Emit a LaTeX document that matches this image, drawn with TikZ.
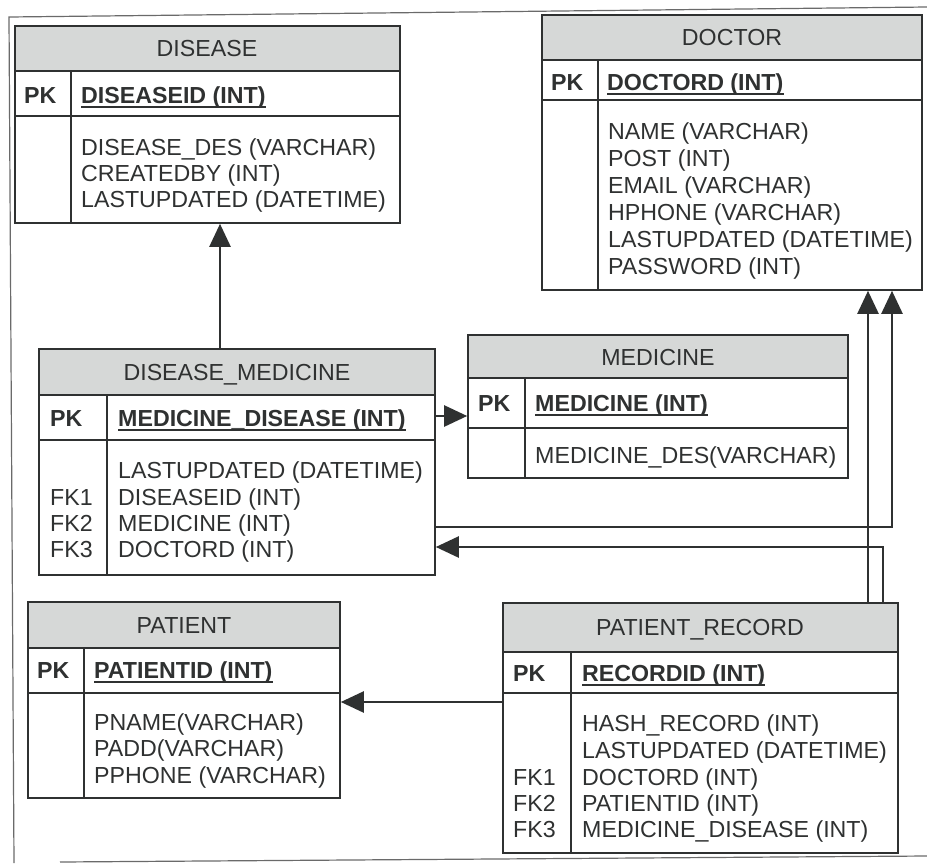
\documentclass[tikz,border=0pt]{standalone}
\usepackage{fontspec}
\setmainfont{Liberation Sans}
\usetikzlibrary{arrows.meta,fit}
\definecolor{ink}{HTML}{2F3131}
\definecolor{titlefill}{HTML}{D6D8D7}
\definecolor{framec}{HTML}{6A6A6A}
\tikzset{
  tline/.style={draw=ink, line width=1.6pt},
  txt/.style={font=\fontsize{23.2}{27}\selectfont, text=ink, inner sep=0pt, text height=16.5pt, text depth=0pt, anchor=west},
  ttl/.style={txt, anchor=center},
  bld/.style={txt, font=\fontsize{23.2}{27}\selectfont\bfseries},
  conn/.style={draw=ink, line width=2.4pt, -{Triangle[length=23pt,width=21pt]}},
}
\newcommand{\mktable}[8]{%
  \fill[titlefill] (#2,#3) rectangle (#4,#5);
  \draw[tline] (#2,#5) -- (#4,#5) (#2,#6) -- (#4,#6) (#8,#5) -- (#8,#7);
  \node[tline, inner sep=0pt, fit={(#2,#3) (#4,#7)}] (#1) {};
}
\newcommand{\pkline}[1]{\draw[ink, line width=1.5pt] ([yshift=-3.5pt]#1.south west) -- ([yshift=-3.5pt]#1.south east);}
\begin{document}
\begin{tikzpicture}[x=1pt,y=-1pt]
\useasboundingbox (0,0) rectangle (927,863);
\fill[white] (0,0) rectangle (927,863);
% scanned frame
\draw[framec, line width=1.2pt] (927,7) -- (9,17) -- (14,863);
\draw[framec, line width=1.2pt] (60,862) -- (927,856);

% tables
\mktable{disease}{15}{26}{400}{71}{116}{223}{71}
\mktable{doctor}{542}{15}{922}{60}{100}{290}{598}
\mktable{dm}{39}{349}{435}{395}{440}{575}{107}
\mktable{medicine}{468}{335}{848}{378}{428}{478}{525}
\mktable{patient}{28}{602}{340}{648}{693}{798}{84}
\mktable{pr}{503}{603}{898}{652}{693}{853}{571}

% DISEASE
\node[ttl] (dis-t) at (207,48) {DISEASE};
\node[bld] (dis-pkl) at (24,95) {PK};
\node[bld] (dis-pk) at (81,95) {DISEASEID (INT)};
\pkline{dis-pk}
\node[txt] (dis-1) at (81,147) {DISEASE\_DES (VARCHAR)};
\node[txt] (dis-2) at (81,173) {CREATEDBY (INT)};
\node[txt] (dis-3) at (81,199) {LASTUPDATED (DATETIME)};

% DOCTOR
\node[ttl] (doc-t) at (732,37) {DOCTOR};
\node[bld] (doc-pkl) at (551,82) {PK};
\node[bld] (doc-pk) at (607,82) {DOCTORD (INT)};
\pkline{doc-pk}
\node[txt] (doc-1) at (608,131) {NAME (VARCHAR)};
\node[txt] (doc-2) at (608,158) {POST (INT)};
\node[txt] (doc-3) at (608,185) {EMAIL (VARCHAR)};
\node[txt] (doc-4) at (608,212) {HPHONE (VARCHAR)};
\node[txt] (doc-5) at (608,239) {LASTUPDATED (DATETIME)};
\node[txt] (doc-6) at (608,266) {PASSWORD (INT)};

% DISEASE_MEDICINE
\node[ttl] (dm-t) at (237,372) {DISEASE\_MEDICINE};
\node[bld] (dm-pkl) at (50,418) {PK};
\node[bld] (dm-pk) at (118,418) {MEDICINE\_DISEASE (INT)};
\pkline{dm-pk}
\node[txt] (dm-1) at (118,470) {LASTUPDATED (DATETIME)};
\node[txt] (dm-2) at (118,497) {DISEASEID (INT)};
\node[txt] (dm-3) at (118,523) {MEDICINE (INT)};
\node[txt] (dm-4) at (118,549) {DOCTORD (INT)};
\node[txt] (dm-f1) at (50,497) {FK1};
\node[txt] (dm-f2) at (50,523) {FK2};
\node[txt] (dm-f3) at (50,549) {FK3};

% MEDICINE
\node[ttl] (med-t) at (658,357) {MEDICINE};
\node[bld] (med-pkl) at (478,403) {PK};
\node[bld] (med-pk) at (535,403) {MEDICINE (INT)};
\pkline{med-pk}
\node[txt] (med-1) at (535,455) {MEDICINE\_DES(VARCHAR)};

% PATIENT
\node[ttl] (pat-t) at (184,625) {PATIENT};
\node[bld] (pat-pkl) at (37,670) {PK};
\node[bld] (pat-pk) at (94,670) {PATIENTID (INT)};
\pkline{pat-pk}
\node[txt] (pat-1) at (94,722) {PNAME(VARCHAR)};
\node[txt] (pat-2) at (94,748) {PADD(VARCHAR)};
\node[txt] (pat-3) at (94,775) {PPHONE (VARCHAR)};

% PATIENT_RECORD
\node[ttl] (pr-t) at (700,627) {PATIENT\_RECORD};
\node[bld] (pr-pkl) at (513,673) {PK};
\node[bld] (pr-pk) at (582,673) {RECORDID (INT)};
\pkline{pr-pk}
\node[txt] (pr-1) at (582,723) {HASH\_RECORD (INT)};
\node[txt] (pr-2) at (582,750) {LASTUPDATED (DATETIME)};
\node[txt] (pr-3) at (582,777) {DOCTORD (INT)};
\node[txt] (pr-4) at (582,803) {PATIENTID (INT)};
\node[txt] (pr-5) at (582,829) {MEDICINE\_DISEASE (INT)};
\node[txt] (pr-f1) at (513,777) {FK1};
\node[txt] (pr-f2) at (513,803) {FK2};
\node[txt] (pr-f3) at (513,829) {FK3};

% connectors
\coordinate (c1) at (220,0);
\coordinate (c2) at (868,0);
\coordinate (c3) at (892,527);
\coordinate (c4) at (883,547);
\coordinate (c5) at (0,702);
\coordinate (c6) at (0,416);
\draw[conn] (dm.north -| c1) -- (disease.south -| c1);
\draw[conn] (pr.north -| c2) -- (doctor.south -| c2);
\draw[conn] (dm.east |- c3) -| (doctor.south -| c3);
\draw[conn] (pr.north -| c4) |- (dm.east |- c4);
\draw[conn] (pr.west |- c5) -- (patient.east |- c5);
\draw[conn] (dm.east |- c6) -- (medicine.west |- c6);
\end{tikzpicture}
\end{document}
